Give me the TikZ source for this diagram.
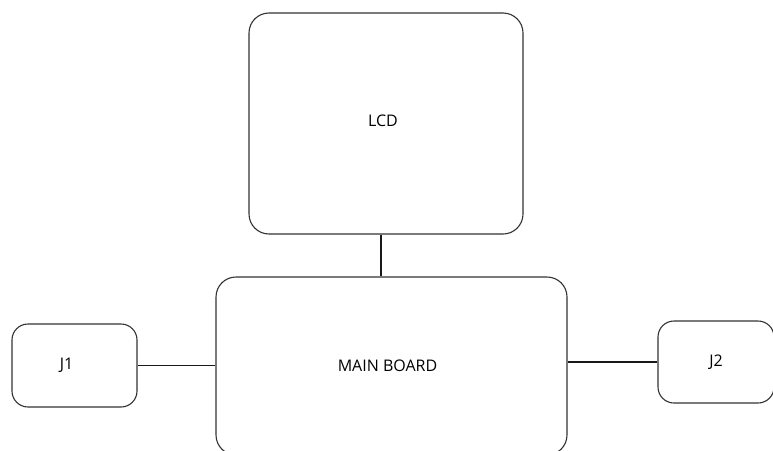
\documentclass[tikz,border=0pt]{standalone}
\usepackage{fontspec}
\setmainfont{Open Sans}
\usetikzlibrary{positioning}
\tikzset{
  block/.style={draw=black!80,line width=1.1pt,rounded corners=#1,font=\fontsize{16}{18}\selectfont},
  block/.default=20pt,
  wire/.style={draw=black!90,line width=1.1pt}
}

\begin{document}
\begin{tikzpicture}[x=1pt,y=-1pt]
    \clip (0,0) rectangle (773,450);
    \fill[white] (0,0) rectangle (773,450);
    \node[block,minimum width=274pt,minimum height=221pt] (lcd) at (386,123.5) {\raisebox{6pt}{LCD}\hspace*{6pt}};
    \node[block,minimum width=351pt,minimum height=178pt] (main) at (391.5,366) {MAIN BOARD\hspace*{8pt}};
    \node[block=16pt,minimum width=125pt,minimum height=83pt] (jone) at (74.5,365.5) {J1\hspace*{16pt}};
    \node[block=16pt,minimum width=116pt,minimum height=82pt] (jtwo) at (716,362) {J2};
    \draw[wire] ([xshift=-5pt]lcd.south) -- ([xshift=-5pt]lcd.south |- main.north);
    \draw[wire] (jone.east) -- (jone.east -| main.west);
    \draw[wire] (jtwo.west) -- (jtwo.west -| main.east);
  \end{tikzpicture}
\end{document}
